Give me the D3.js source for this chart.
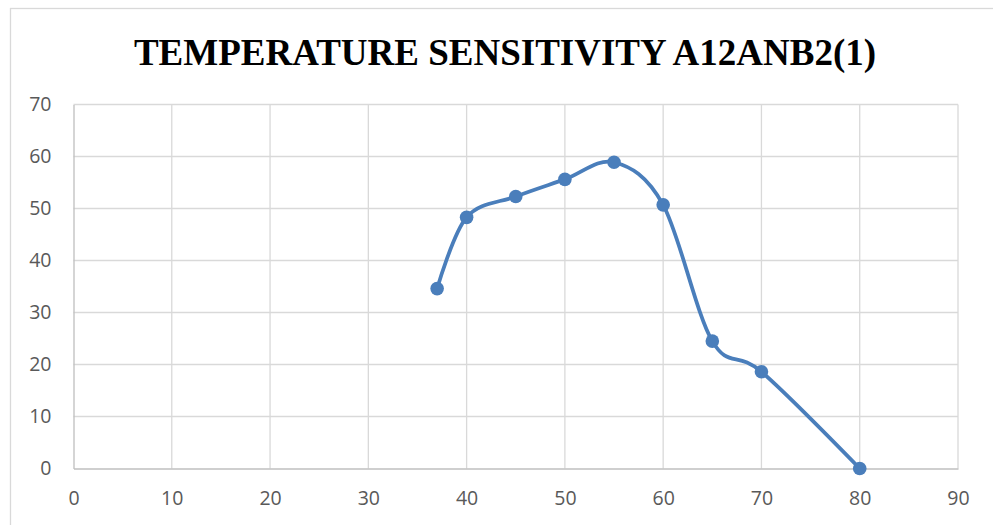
<!DOCTYPE html>
<html>
<head>
<meta charset="utf-8">
<script src="https://cdn.jsdelivr.net/npm/d3@7"></script>
<style>
  html, body { margin: 0; padding: 0; background: #fff; }
  svg { display: block; }
</style>
</head>
<body>
<svg id="chart" width="993" height="525"></svg>
<script>
const title = "TEMPERATURE SENSITIVITY A12ANB2(1)";
const temperatures = [37, 40, 45, 50, 55, 60, 65, 70, 80];
const activity = [34.6, 48.3, 52.3, 55.6, 58.9, 50.7, 24.5, 18.6, 0];
const xTicks = [0, 10, 20, 30, 40, 50, 60, 70, 80, 90];
const yTicks = [0, 10, 20, 30, 40, 50, 60, 70];

const svg = d3.select("#chart");
const W = 993, H = 525;
const x = d3.scaleLinear().domain([0, 90]).range([73.5, 958]);
const y = d3.scaleLinear().domain([0, 70]).range([468.5, 104.5]);

svg.append("rect").attr("width", W).attr("height", H).attr("fill", "#fff");
// chart border
svg.append("rect").attr("x", 10.5).attr("y", 8.5).attr("width", 1200).attr("height", 1200)
  .attr("fill", "none").attr("stroke", "#d9d9d9").attr("stroke-width", 1.3);

// title
svg.append("text").attr("x", 505).attr("y", 64.5).attr("text-anchor", "middle")
  .attr("font-family", "'Liberation Serif', 'Times New Roman', serif")
  .attr("font-weight", "bold").attr("font-size", 37).attr("fill", "#000")
  .text(title);

// gridlines
const grid = svg.append("g");
grid.selectAll("line.h").data(yTicks.filter(d => d > 0)).join("line")
  .attr("x1", x(0)).attr("x2", x(90)).attr("y1", d => y(d)).attr("y2", d => y(d))
  .attr("stroke", "#d9d9d9").attr("stroke-width", 1.3);
grid.selectAll("line.v").data(xTicks.filter(d => d > 0)).join("line")
  .attr("y1", y(0)).attr("y2", y(70)).attr("x1", d => x(d)).attr("x2", d => x(d))
  .attr("stroke", "#d9d9d9").attr("stroke-width", 1.3);

// axes
const xAxis = svg.append("g").attr("transform", `translate(0,${y(0)})`)
  .call(d3.axisBottom(x).tickValues(xTicks).tickSize(0).tickPadding(23));
const yAxis = svg.append("g").attr("transform", `translate(${x(0)},0)`)
  .call(d3.axisLeft(y).tickValues(yTicks).tickSize(0).tickPadding(22));
[xAxis, yAxis].forEach(a => {
  a.select(".domain").attr("stroke", "#bfbfbf").attr("stroke-width", 1.3);
  a.selectAll("text").attr("font-family", "'Open Sans', sans-serif")
    .attr("font-size", 19.5).attr("fill", "#595959");
});

// series
const pts = temperatures.map((t, i) => [t, activity[i]]);
const line = d3.line().x(d => x(d[0])).y(d => y(d[1])).curve(d3.curveCardinal.tension(0));
svg.append("path").datum(pts).attr("d", line).attr("fill", "none")
  .attr("stroke", "#4a7ebb").attr("stroke-width", 3.75).attr("stroke-linejoin", "round");
svg.append("g").selectAll("circle").data(pts).join("circle")
  .attr("cx", d => x(d[0])).attr("cy", d => y(d[1])).attr("r", 6.8)
  .attr("fill", "#4a7ebb");
</script>
</body>
</html>
